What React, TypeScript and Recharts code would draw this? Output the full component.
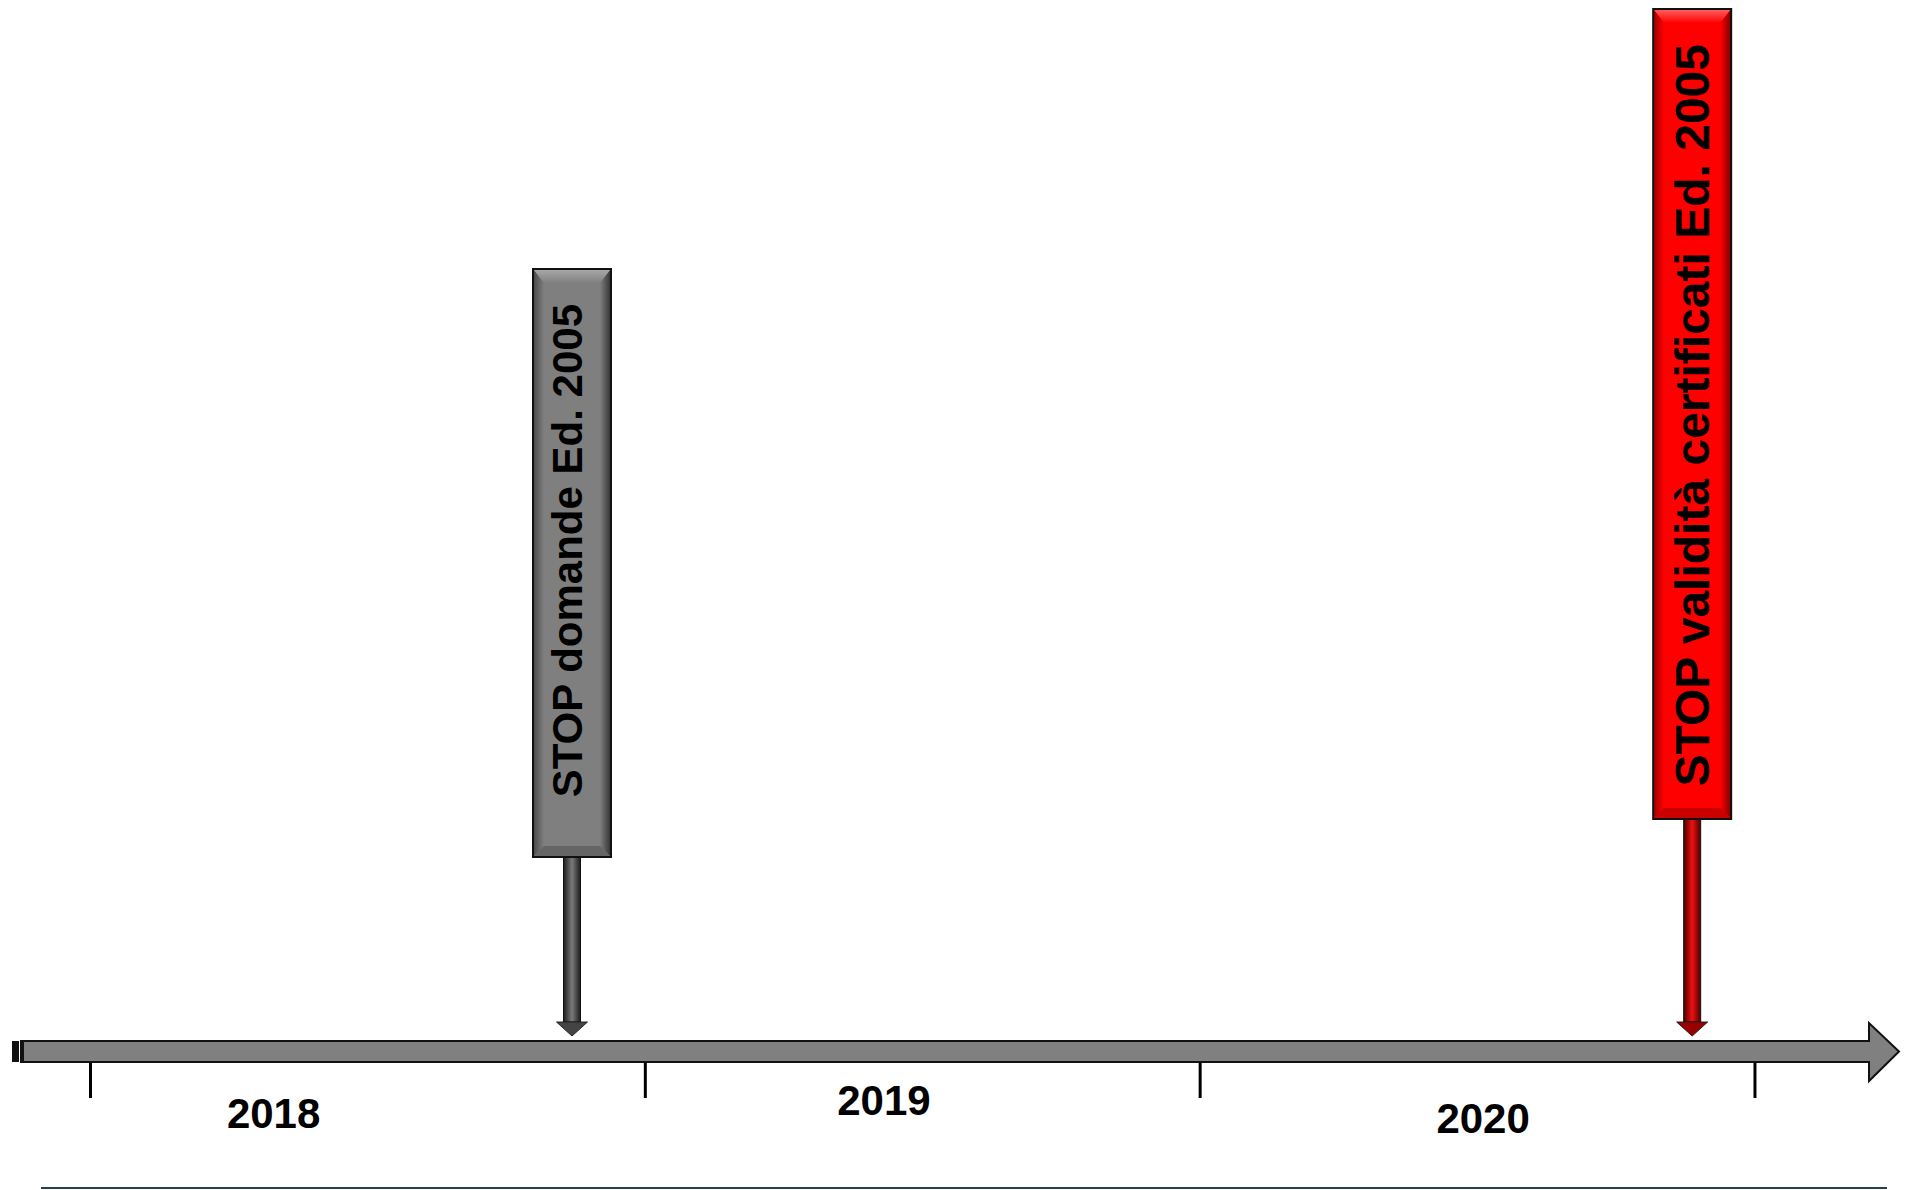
import React from 'react';
import { ComposedChart, Bar, XAxis, YAxis, ReferenceArea } from 'recharts';

// ---- data ----
const markerDates = [2018.868, 2020.887]; // decimal years
const markerLabels = ['STOP domande Ed. 2005', 'STOP validità certificati Ed. 2005'];
const markerTop = [77.2, 103.2]; // level of the top of each sign
const markerBoxBottom = [18.4, 22.2]; // level of the bottom of each sign
const yearTicks = [2018, 2019, 2020, 2021];
const yearLabels = ['2018', '2019', '2020'];
const yearLabelDates = [2018.33, 2019.43, 2020.51];

// ---- styles ----
const X_DOMAIN: [number, number] = [2017.8585, 2021.2596];
const Y_DOMAIN: [number, number] = [-2.2, 104.1];
const FONT = 'Arial, "Liberation Sans", sans-serif';
const labelDy = [65, 52, 70];
const markerStyles = [
  { face: '#7f7f7f', top: '#ababab', bottom: '#656565', edgeL: '#454545', edgeR: '#303030', stemEdge: '#1c1c1c', stemMid: '#7a7a7a', head: '#444444', fontSize: 42, textDx: 10 },
  { face: '#ff0000', top: '#ff6464', bottom: '#c80000', edgeL: '#9a0000', edgeR: '#7a0000', stemEdge: '#4a0000', stemMid: '#f01010', head: '#9a0000', fontSize: 48, textDx: 17 },
];

const chartData = markerDates.map((d, i) => ({
  date: d,
  range: [0, markerTop[i]],
  top: markerTop[i],
  boxBottom: markerBoxBottom[i],
  label: markerLabels[i],
  idx: i,
}));

const MarkerShape = (props: any) => {
  const { x, y, width, height, payload } = props;
  const i = payload.idx;
  const st = markerStyles[i];
  const axisY = y + height;
  const pxPerUnit = height / payload.top;
  const yb = axisY - payload.boxBottom * pxPerUnit;
  const w = width;
  const b = 11;
  const cx = x + w / 2;
  const tipY = axisY - 5;
  const headH = 14;
  const headW = 15.5;
  const stemW = 17;
  const gid = `mk${i}`;
  return (
    <g>
      <defs>
        <linearGradient id={`${gid}l`} x1="0" x2="1" y1="0" y2="0">
          <stop offset="0" stopColor={st.edgeL} />
          <stop offset="1" stopColor={st.face} />
        </linearGradient>
        <linearGradient id={`${gid}r`} x1="0" x2="1" y1="0" y2="0">
          <stop offset="0" stopColor={st.face} />
          <stop offset="1" stopColor={st.edgeR} />
        </linearGradient>
        <linearGradient id={`${gid}t`} x1="0" x2="0" y1="0" y2="1">
          <stop offset="0" stopColor={st.top} />
          <stop offset="1" stopColor={st.face} />
        </linearGradient>
        <linearGradient id={`${gid}s`} x1="0" x2="1" y1="0" y2="0">
          <stop offset="0" stopColor={st.stemEdge} />
          <stop offset="0.5" stopColor={st.stemMid} />
          <stop offset="1" stopColor={st.stemEdge} />
        </linearGradient>
      </defs>
      {/* stem */}
      <rect x={cx - stemW / 2} y={yb} width={stemW} height={tipY - headH - yb} fill={`url(#${gid}s)`} stroke="#111" strokeWidth={1} />
      <polygon
        points={`${cx - headW},${tipY - headH} ${cx + headW},${tipY - headH} ${cx},${tipY}`}
        fill={st.head}
        stroke="#222"
        strokeWidth={1}
      />
      {/* sign */}
      <rect x={x} y={y} width={w} height={yb - y} fill={st.face} />
      <polygon points={`${x},${y} ${x + w},${y} ${x + w - b},${y + b + 3} ${x + b},${y + b + 3}`} fill={`url(#${gid}t)`} />
      <polygon points={`${x},${y} ${x + b},${y + b + 3} ${x + b},${yb - b} ${x},${yb}`} fill={`url(#${gid}l)`} />
      <polygon points={`${x + w},${y} ${x + w - b},${y + b + 3} ${x + w - b},${yb - b} ${x + w},${yb}`} fill={`url(#${gid}r)`} />
      <polygon points={`${x},${yb} ${x + b},${yb - b} ${x + w - b},${yb - b} ${x + w},${yb}`} fill={st.bottom} />
      <rect x={x} y={y} width={w} height={yb - y} fill="none" stroke="#111" strokeWidth={2} />
      <text
        x={cx + st.textDx}
        y={y + 35}
        transform={`rotate(-90 ${cx + st.textDx} ${y + 35})`}
        textAnchor="end"
        fontFamily={FONT}
        fontWeight="bold"
        fontSize={st.fontSize}
        fill="#000"
      >
        {payload.label}
      </text>
    </g>
  );
};

const AxisArrow = (props: any) => {
  const { x, y, width, height } = props;
  const headLen = 30;
  const bodyEnd = x + width - headLen;
  const tip = x + width;
  const mid = y + height / 2;
  const pts = [
    [x + 9, y],
    [bodyEnd, y],
    [bodyEnd, y - 18],
    [tip, mid],
    [bodyEnd, y + height + 19],
    [bodyEnd, y + height],
    [x + 9, y + height],
  ]
    .map((p) => p.join(','))
    .join(' ');
  return (
    <g>
      <polygon points={pts} fill="#808080" stroke="#111" strokeWidth={2} strokeLinejoin="miter" />
      <rect x={x} y={y} width={7} height={height} fill="#111" />
      <rect x={x + 9} y={y} width={3} height={height} fill="#111" />
    </g>
  );
};

const YearTick = (props: any) => {
  const { x, y, payload } = props;
  const v = payload.value;
  const ti = yearTicks.indexOf(v);
  if (ti >= 0) {
    return <line x1={x} x2={x} y1={y} y2={y + 35} stroke="#000" strokeWidth={3} />;
  }
  const li = yearLabelDates.indexOf(v);
  if (li < 0) return null;
  return (
    <text x={x} y={y + labelDy[li]} textAnchor="middle" fontFamily={FONT} fontWeight="bold" fontSize={42} fill="#000">
      {yearLabels[li]}
    </text>
  );
};

const allTicks = [...yearTicks, ...yearLabelDates].sort((a, b) => a - b);

export default function App() {
  return (
    <div style={{ position: 'absolute', left: 0, top: 0, width: 1905, height: 1190, background: '#fff' }}>
      <ComposedChart
        width={1905}
        height={1190}
        data={chartData}
        margin={{ top: 0, right: 6, bottom: 0, left: 12 }}
      >
        <XAxis
          dataKey="date"
          type="number"
          domain={X_DOMAIN}
          allowDataOverflow
          ticks={allTicks}
          interval={0}
          height={127}
          axisLine={false}
          tickLine={false}
          tickSize={0}
          tickMargin={0}
          tick={<YearTick />}
        />
        <YAxis type="number" domain={Y_DOMAIN} allowDataOverflow hide />
        <ReferenceArea
          x1={X_DOMAIN[0]}
          x2={X_DOMAIN[1]}
          y1={-2.1}
          y2={0}
          ifOverflow="visible"
          shape={<AxisArrow />}
        />
        <Bar dataKey="range" barSize={78} shape={<MarkerShape />} isAnimationActive={false} />
      </ComposedChart>
      <div style={{ position: 'absolute', left: 41, top: 1187, width: 1846, height: 2, background: '#24434d' }} />
    </div>
  );
}
